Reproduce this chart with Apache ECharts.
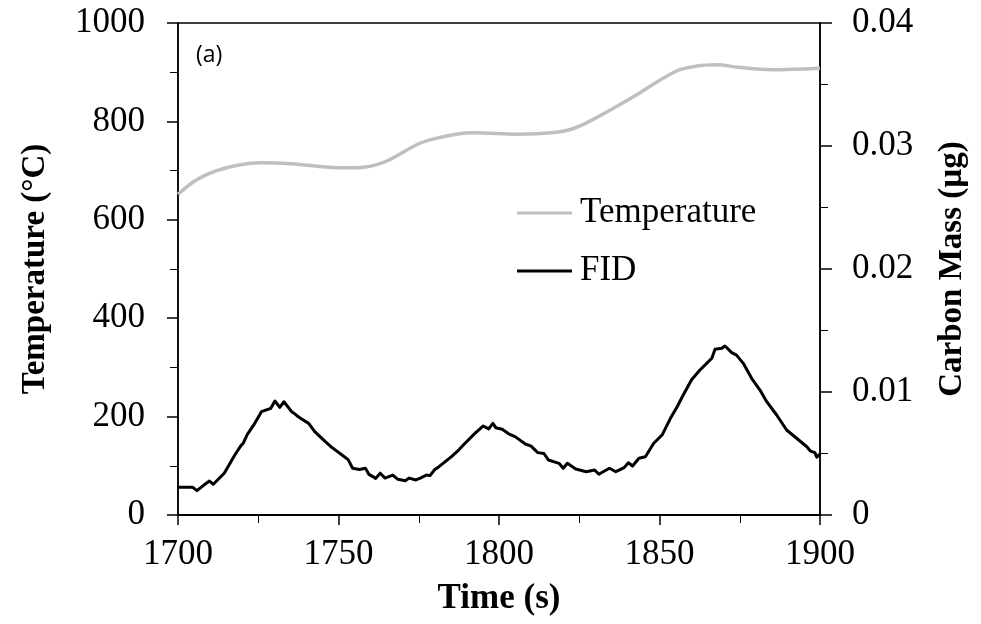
<!DOCTYPE html>
<html>
<head>
<meta charset="utf-8">
<script src="https://cdn.jsdelivr.net/npm/echarts@6/dist/echarts.min.js"></script>
<style>
  html, body { margin: 0; padding: 0; background: #fff; }
  #chart { width: 981px; height: 624px; }
</style>
</head>
<body>
<div id="chart"></div>
<script>
// Temperature trace (°C) against time (s)
const tempTime  = [1700, 1705.2, 1710, 1717, 1726, 1735.4, 1750, 1756, 1760, 1765.6, 1774.8, 1780, 1786.6, 1791.8, 1806, 1818, 1823, 1828.5, 1841.6, 1854.8, 1861.3, 1868, 1874.4, 1885, 1900];
const tempValue = [652, 679, 695, 709, 716, 714, 706, 706, 709, 721, 754, 765, 774, 777, 774, 778, 785, 801, 849, 901, 912, 915, 910, 905, 908];

// FID carbon mass (µg) against time (s)
const fidTime = [1700, 1704.6, 1705.9, 1708.5, 1709.8, 1711, 1714.4, 1717.7, 1719.5, 1720.3, 1721.6, 1723.6, 1726, 1728.9, 1730.2, 1731.7, 1733, 1735.4, 1736.5, 1737.4, 1738.5, 1740.7, 1742.6, 1745.9, 1747.9, 1751.1, 1753, 1754.4, 1756.5, 1758.4, 1759.5, 1761.6, 1763, 1764.5, 1766.9, 1768.5, 1770.8, 1772, 1774.1, 1775.5, 1777.4, 1778.5, 1780, 1781.3, 1785.2, 1787.5, 1789.2, 1792.5, 1795.1, 1796.8, 1798.1, 1799, 1801, 1803, 1805, 1808.2, 1810, 1812.1, 1814, 1815.4, 1818.7, 1820, 1821.3, 1823.9, 1827.2, 1829.8, 1831.1, 1833, 1834.4, 1836.4, 1839, 1840.3, 1841.6, 1843.6, 1845.6, 1848.2, 1850.8, 1853.4, 1855.5, 1857.4, 1860, 1862.6, 1864.7, 1866.3, 1867.3, 1869.4, 1870.4, 1872.5, 1874, 1876.1, 1878.7, 1881.3, 1883.4, 1886.5, 1889.6, 1892.7, 1895.9, 1897, 1898.4, 1899, 1900];
const fidMass = [0.00225, 0.00225, 0.00198, 0.00252, 0.00276, 0.0025, 0.00339, 0.00488, 0.0056, 0.00583, 0.00656, 0.00732, 0.0084, 0.00867, 0.00927, 0.00875, 0.00921, 0.0084, 0.0082, 0.008, 0.0078, 0.00745, 0.00678, 0.00596, 0.0055, 0.00488, 0.0045, 0.0038, 0.0037, 0.0038, 0.0033, 0.00298, 0.0034, 0.003, 0.00325, 0.0029, 0.00279, 0.003, 0.00285, 0.003, 0.00325, 0.0032, 0.0037, 0.00393, 0.00474, 0.0053, 0.00577, 0.00664, 0.00724, 0.007, 0.00745, 0.0071, 0.00697, 0.0066, 0.00637, 0.00577, 0.0056, 0.00507, 0.005, 0.00447, 0.0042, 0.0038, 0.0042, 0.00374, 0.00352, 0.00366, 0.00331, 0.0036, 0.0038, 0.00352, 0.00385, 0.00425, 0.00398, 0.00461, 0.00474, 0.00583, 0.0065, 0.00786, 0.0088, 0.00976, 0.011, 0.01179, 0.01233, 0.01274, 0.01347, 0.01355, 0.01374, 0.0132, 0.013, 0.01233, 0.01111, 0.01016, 0.00921, 0.00813, 0.00691, 0.00624, 0.00555, 0.0052, 0.00507, 0.0047, 0.00496];

const seriesNames = ['Temperature', 'FID'];
const xAxisTitle = 'Time (s)';
const leftAxisTitle = 'Temperature (°C)';
const rightAxisTitle = 'Carbon Mass (µg)';
const panelTag = '(a)';

const serif = '"Liberation Serif", "Times New Roman", serif';
const pair = (xs, ys) => xs.map((x, i) => [x, ys[i]]);

const tickLabel = { fontFamily: serif, fontSize: 35, color: '#000' };
const axisTitle = { fontFamily: serif, fontSize: 33, fontWeight: 'bold', color: '#000' };

const chart = echarts.init(document.getElementById('chart'), null, { renderer: 'canvas' });

chart.setOption({
  animation: false,
  backgroundColor: '#ffffff',
  title: {
    text: panelTag,
    left: 191, top: 39,
    textStyle: { fontFamily: '"Open Sans", "Liberation Sans", sans-serif', fontSize: 23, fontWeight: 'normal', color: '#000' }
  },
  grid: {
    left: 178, right: 161, top: 23, bottom: 109,
    show: true, borderColor: '#000', borderWidth: 1.5, backgroundColor: 'transparent'
  },
  legend: {
    orient: 'vertical',
    left: 517, top: 195,
    padding: 0,
    itemWidth: 55, itemHeight: 3, itemGap: 22,
    icon: 'rect',
    textStyle: { fontFamily: serif, fontSize: 35, color: '#000', lineHeight: 36, padding: [0, 0, 0, 3] },
    data: seriesNames
  },
  xAxis: {
    type: 'value',
    min: 1700, max: 1900, interval: 50,
    name: xAxisTitle,
    nameLocation: 'middle', nameGap: 66,
    nameTextStyle: Object.assign({}, axisTitle, { fontSize: 35 }),
    axisLine: { lineStyle: { color: '#000', width: 2 } },
    axisTick: { show: true, inside: false, length: 10, lineStyle: { color: '#000', width: 1.5 } },
    minorTick: { show: true, splitNumber: 2, length: 8, lineStyle: { color: '#000', width: 1 } },
    axisLabel: Object.assign({ margin: 22, formatter: v => String(v) }, tickLabel),
    splitLine: { show: false }
  },
  yAxis: [
    {
      type: 'value',
      min: 0, max: 1000, interval: 200,
      name: leftAxisTitle,
      nameLocation: 'middle', nameGap: 126,
      nameTextStyle: axisTitle,
      axisLine: { show: true, lineStyle: { color: '#000', width: 1.5 } },
      axisTick: { show: true, inside: false, length: 11, lineStyle: { color: '#000', width: 1.5 } },
      minorTick: { show: true, splitNumber: 2, length: 8, lineStyle: { color: '#000', width: 1 } },
      axisLabel: Object.assign({ margin: 33, formatter: v => String(v) }, tickLabel),
      splitLine: { show: false }
    },
    {
      type: 'value',
      min: 0, max: 0.04, interval: 0.01,
      name: rightAxisTitle,
      nameLocation: 'middle', nameGap: 116,
      nameRotate: 90,
      nameTextStyle: axisTitle,
      axisLine: { show: true, lineStyle: { color: '#000', width: 1.5 } },
      axisTick: { show: true, inside: false, length: 12, lineStyle: { color: '#000', width: 1.5 } },
      minorTick: { show: true, splitNumber: 2, length: 8, lineStyle: { color: '#000', width: 1 } },
      axisLabel: Object.assign({ margin: 32, formatter: v => (v === 0 ? '0' : v.toFixed(2)) }, tickLabel),
      splitLine: { show: false }
    }
  ],
  series: [
    {
      name: seriesNames[0],
      type: 'line',
      yAxisIndex: 0,
      data: pair(tempTime, tempValue),
      smooth: 0.35,
      showSymbol: false,
      lineStyle: { color: '#bfbfbf', width: 3.5 },
      itemStyle: { color: '#bfbfbf' },
      z: 2
    },
    {
      name: seriesNames[1],
      type: 'line',
      yAxisIndex: 1,
      data: pair(fidTime, fidMass),
      showSymbol: false,
      lineStyle: { color: '#000', width: 3, join: 'round' },
      itemStyle: { color: '#000' },
      z: 3
    }
  ]
});
</script>
</body>
</html>
